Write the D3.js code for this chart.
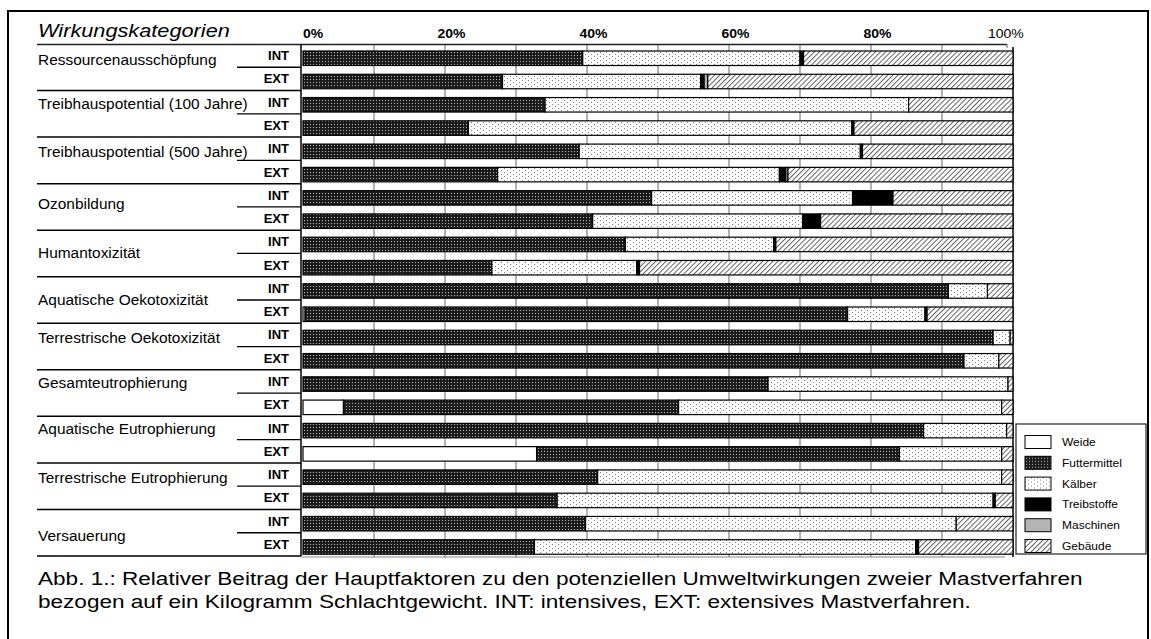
<!DOCTYPE html>
<html>
<head>
<meta charset="utf-8">
<script src="https://cdn.jsdelivr.net/npm/d3@7"></script>
<style>
	body { margin: 0; background: #fff; }
	svg { display: block; }
	text { font-family: "Liberation Sans", Arial, sans-serif; fill: #000; }
</style>
</head>
<body>
<svg id="chart" width="1151" height="639"></svg>
<script>

/*=================
=== Data (percent of each bar)
=================*/

const categories = [
	'Ressourcenausschöpfung',
	'Treibhauspotential (100 Jahre)',
	'Treibhauspotential (500 Jahre)',
	'Ozonbildung',
	'Humantoxizität',
	'Aquatische Oekotoxizität',
	'Terrestrische Oekotoxizität',
	'Gesamteutrophierung',
	'Aquatische Eutrophierung',
	'Terrestrische Eutrophierung',
	'Versauerung'
];
const methods = ['INT', 'EXT'];
const factors = ['Weide', 'Futtermittel', 'Kälber', 'Treibstoffe', 'Maschinen', 'Gebäude'];

// one value per bar: INT, EXT, INT, EXT ...
const weide =        [0, 0, 0, 0, 0, 0, 0, 0, 0, 0, 0, 0.3, 0, 0, 0, 5.7, 0, 32.9, 0, 0, 0, 0];
const futtermittel = [39.4, 28.1, 34.1, 23.3, 38.9, 27.4, 49.1, 40.8, 45.4, 26.6, 90.9, 76.4, 97.2, 93.1, 65.5, 47.2, 87.4, 51.1, 41.5, 35.8, 39.8, 32.6];
const kaelber =      [30.6, 27.9, 51.2, 54.0, 39.6, 39.7, 28.3, 29.6, 20.9, 20.4, 5.5, 10.9, 2.4, 4.9, 33.8, 45.5, 11.7, 14.4, 56.9, 61.4, 52.2, 53.7];
const treibstoffe =  [0.5, 0.5, 0, 0.3, 0.3, 0.9, 5.7, 2.5, 0.3, 0.4, 0, 0.3, 0, 0, 0, 0, 0, 0, 0, 0.3, 0, 0.4];
const maschinen =    [0, 0.5, 0, 0, 0, 0.3, 0, 0, 0, 0, 0, 0, 0, 0, 0, 0, 0, 0, 0, 0, 0, 0];
const gebaeude =     [29.5, 43.0, 14.7, 22.4, 21.2, 31.7, 16.9, 27.1, 33.4, 52.6, 3.6, 12.1, 0.4, 2.0, 0.7, 1.6, 0.9, 1.6, 1.6, 2.5, 8.0, 13.3];

const tickValues = [0, 20, 40, 60, 80, 100];
const tickLabels = ['0%', '20%', '40%', '60%', '80%', '100%'];

const titleText = 'Wirkungskategorien';
const captionLines = [
	'Abb. 1.: Relativer Beitrag der Hauptfaktoren zu den potenziellen Umweltwirkungen zweier Mastverfahren',
	'bezogen auf ein Kilogramm Schlachtgewicht. INT: intensives, EXT: extensives Mastverfahren.'
];

/*=================
=== Layout
=================*/

const plotLeft = 303;
const plotRight = 1013;
const tableTop = 44;
const tableBottom = 556;
const barOffset = 7;
const barHeight = 14.5;

// hand placed vertical shift of the category names (px, from the INT row centre)
const nameShift = [4, 2, 3, 9, 11, 12, 3, 2, 1, 3, 15];

const svg = d3.select('#chart');

const x = d3.scaleLinear()
	.domain([0, 100])
	.range([plotLeft, plotRight]);

const rowIds = d3.range(categories.length * methods.length);
const y = d3.scaleBand()
	.domain(rowIds)
	.range([tableTop, tableBottom]);

const series = [weide, futtermittel, kaelber, treibstoffe, maschinen, gebaeude];
const rows = rowIds.map(i => {
	const r = { row: i, method: methods[i % 2] };
	factors.forEach((f, k) => r[f] = series[k][i]);
	return r;
});
const stacked = d3.stack().keys(factors)(rows);

/*=================
=== Fill patterns
=================*/

const defs = svg.append('defs');

const pFutter = defs.append('pattern')
	.attr('id', 'p-futter')
	.attr('patternUnits', 'userSpaceOnUse')
	.attr('width', 3).attr('height', 3);
pFutter.append('rect').attr('width', 3).attr('height', 3).attr('fill', '#1c1c1c');
pFutter.append('rect').attr('x', 1).attr('y', 1).attr('width', 1).attr('height', 1).attr('fill', '#b8b8b8');

const pKaelber = defs.append('pattern')
	.attr('id', 'p-kaelber')
	.attr('patternUnits', 'userSpaceOnUse')
	.attr('width', 6).attr('height', 4);
pKaelber.append('rect').attr('width', 6).attr('height', 4).attr('fill', '#fff');
pKaelber.append('rect').attr('x', 0).attr('y', 0).attr('width', 1).attr('height', 1).attr('fill', '#7a7a7a');
pKaelber.append('rect').attr('x', 3).attr('y', 2).attr('width', 1).attr('height', 1).attr('fill', '#7a7a7a');

const pGeb = defs.append('pattern')
	.attr('id', 'p-geb')
	.attr('patternUnits', 'userSpaceOnUse')
	.attr('width', 3.6).attr('height', 3.6)
	.attr('patternTransform', 'rotate(45)');
pGeb.append('rect').attr('width', 3.6).attr('height', 3.6).attr('fill', '#fff');
pGeb.append('line').attr('x1', 0.5).attr('y1', 0).attr('x2', 0.5).attr('y2', 3.6)
	.attr('stroke', '#555').attr('stroke-width', 0.9);

const fills = {
	'Weide': '#ffffff',
	'Futtermittel': 'url(#p-futter)',
	'Kälber': 'url(#p-kaelber)',
	'Treibstoffe': '#000000',
	'Maschinen': '#b4b4b4',
	'Gebäude': 'url(#p-geb)'
};

/*=================
=== Text helper: the original is a bit stretched sideways
=================*/

function stretch(sel, sx) {
	sel.each(function() {
		const t = d3.select(this);
		const x0 = +t.attr('x');
		const y0 = +t.attr('y');
		t.attr('x', 0).attr('y', 0)
			.attr('transform', `translate(${x0},${y0}) scale(${sx},1)`);
	});
}

function fit(sel, refNode, width) {
	const w = refNode.getComputedTextLength();
	stretch(sel, width / w);
}

/*=================
=== Frame (bottom edge falls outside the picture)
=================*/

svg.append('rect')
	.attr('x', 8).attr('y', 11)
	.attr('width', 1140).attr('height', 640)
	.attr('fill', '#fff')
	.attr('stroke', '#000')
	.attr('stroke-width', 2);

/*=================
=== Grid
=================*/

const grid = svg.append('g').attr('class', 'grid');

grid.selectAll('line')
	.data(d3.range(10, 100, 10))
	.enter()
	.append('line')
		.attr('x1', d => x(d)).attr('x2', d => x(d))
		.attr('y1', tableTop).attr('y2', tableBottom + 1)
		.attr('stroke', '#666')
		.attr('stroke-width', 1);

// top rule
svg.append('line')
	.attr('x1', 37).attr('x2', x(100) - 6)
	.attr('y1', tableTop + 0.5).attr('y2', tableTop + 0.5)
	.attr('stroke', '#222').attr('stroke-width', 1.3);
svg.append('line')
	.attr('x1', x(100) - 6).attr('x2', x(100) - 6)
	.attr('y1', tableTop).attr('y2', tableTop + 4)
	.attr('stroke', '#666');

// bottom rule
svg.append('line')
	.attr('x1', plotLeft - 2).attr('x2', x(100) - 8)
	.attr('y1', tableBottom + 1).attr('y2', tableBottom + 1)
	.attr('stroke', '#888').attr('stroke-width', 1);

// 100% edge
svg.append('line')
	.attr('x1', x(100)).attr('x2', x(100))
	.attr('y1', tableTop + 3).attr('y2', tableBottom + 1)
	.attr('stroke', '#000').attr('stroke-width', 1.5);

/*=================
=== Bars
=================*/

const barG = svg.append('g').attr('class', 'bars');

barG.selectAll('g')
	.data(stacked)
	.enter()
	.append('g')
		.attr('fill', s => fills[s.key])
	.selectAll('rect')
	.data(s => s.filter(d => d[1] - d[0] > 0))
	.enter()
	.append('rect')
		.attr('x', d => x(d[0]))
		.attr('y', d => y(d.data.row) + barOffset)
		.attr('width', d => x(d[1]) - x(d[0]))
		.attr('height', barHeight)
		.attr('stroke', '#000')
		.attr('stroke-width', 1.2);

/*=================
=== Label column
=================*/

const labels = svg.append('g').attr('class', 'labels');

labels.append('line')
	.attr('x1', plotLeft - 2).attr('x2', plotLeft - 2)
	.attr('y1', tableTop).attr('y2', tableBottom)
	.attr('stroke', '#000').attr('stroke-width', 1.5);

// lines between the categories
labels.selectAll('.cat-line')
	.data(d3.range(1, categories.length + 1))
	.enter()
	.append('line')
		.attr('class', 'cat-line')
		.attr('x1', 37).attr('x2', plotLeft - 2)
		.attr('y1', c => c < categories.length ? y(c * 2) : tableBottom)
		.attr('y2', c => c < categories.length ? y(c * 2) : tableBottom)
		.attr('stroke', '#000').attr('stroke-width', 1.5);

// lines between INT and EXT
labels.selectAll('.met-line')
	.data(d3.range(categories.length))
	.enter()
	.append('line')
		.attr('class', 'met-line')
		.attr('x1', 237).attr('x2', plotLeft - 2)
		.attr('y1', c => y(c * 2 + 1))
		.attr('y2', c => y(c * 2 + 1))
		.attr('stroke', '#000').attr('stroke-width', 1.3);

const methodText = labels.selectAll('.met')
	.data(rows)
	.enter()
	.append('text')
		.attr('class', 'met')
		.attr('x', 289)
		.attr('y', d => y(d.row) + y.bandwidth() / 2 + 4.5)
		.attr('text-anchor', 'end')
		.attr('font-weight', 'bold')
		.attr('font-size', 12.5)
		.text(d => d.method);
fit(methodText, methodText.node(), 21);

const nameText = labels.selectAll('.cat')
	.data(categories)
	.enter()
	.append('text')
		.attr('class', 'cat')
		.attr('x', 38)
		.attr('y', (d, i) => y(i * 2) + y.bandwidth() / 2 + nameShift[i] + 5)
		.attr('font-size', 14.5)
		.text(d => d);
fit(nameText, nameText.nodes()[1], 210);

const title = svg.append('text')
	.attr('x', 38).attr('y', 37)
	.attr('font-size', 18.5)
	.attr('font-style', 'italic')
	.text(titleText);
fit(title, title.node(), 192);

/*=================
=== Percent labels
=================*/

const tickText = svg.append('g').attr('class', 'ticks')
	.selectAll('text')
	.data(tickValues)
	.enter()
	.append('text')
		.attr('x', v => v === 0 ? x(v) : v === 100 ? x(v) - 25 : x(v) - 7.5)
		.attr('y', 38)
		.attr('font-size', 12.5)
		.attr('font-weight', v => v === 100 ? 'normal' : 'bold')
		.text((v, i) => tickLabels[i]);
fit(tickText, tickText.nodes()[1], 28);

/*=================
=== Legend
=================*/

const legend = svg.append('g')
	.attr('class', 'legend')
	.attr('transform', 'translate(1016,424)');

legend.append('rect')
	.attr('width', 130).attr('height', 130)
	.attr('fill', '#fff')
	.attr('stroke', '#333').attr('stroke-width', 1.3);

const item = legend.selectAll('.item')
	.data(factors)
	.enter()
	.append('g')
		.attr('class', 'item')
		.attr('transform', (d, i) => `translate(0,${18 + i * 20.8})`);

item.append('rect')
	.attr('x', 9).attr('y', -6.5)
	.attr('width', 26).attr('height', 13)
	.attr('fill', d => fills[d])
	.attr('stroke', '#000').attr('stroke-width', 1);

const legendText = item.append('text')
	.attr('x', 46).attr('y', 4)
	.attr('font-size', 11)
	.text(d => d);
fit(legendText, legendText.nodes()[1], 60);

/*=================
=== Caption
=================*/

const caption = svg.append('g').attr('class', 'caption')
	.selectAll('text')
	.data(captionLines)
	.enter()
	.append('text')
		.attr('x', 38)
		.attr('y', (d, i) => 585 + i * 23)
		.attr('font-size', 18.5)
		.text(d => d);
fit(caption, caption.node(), 1045);

</script>
</body>
</html>
